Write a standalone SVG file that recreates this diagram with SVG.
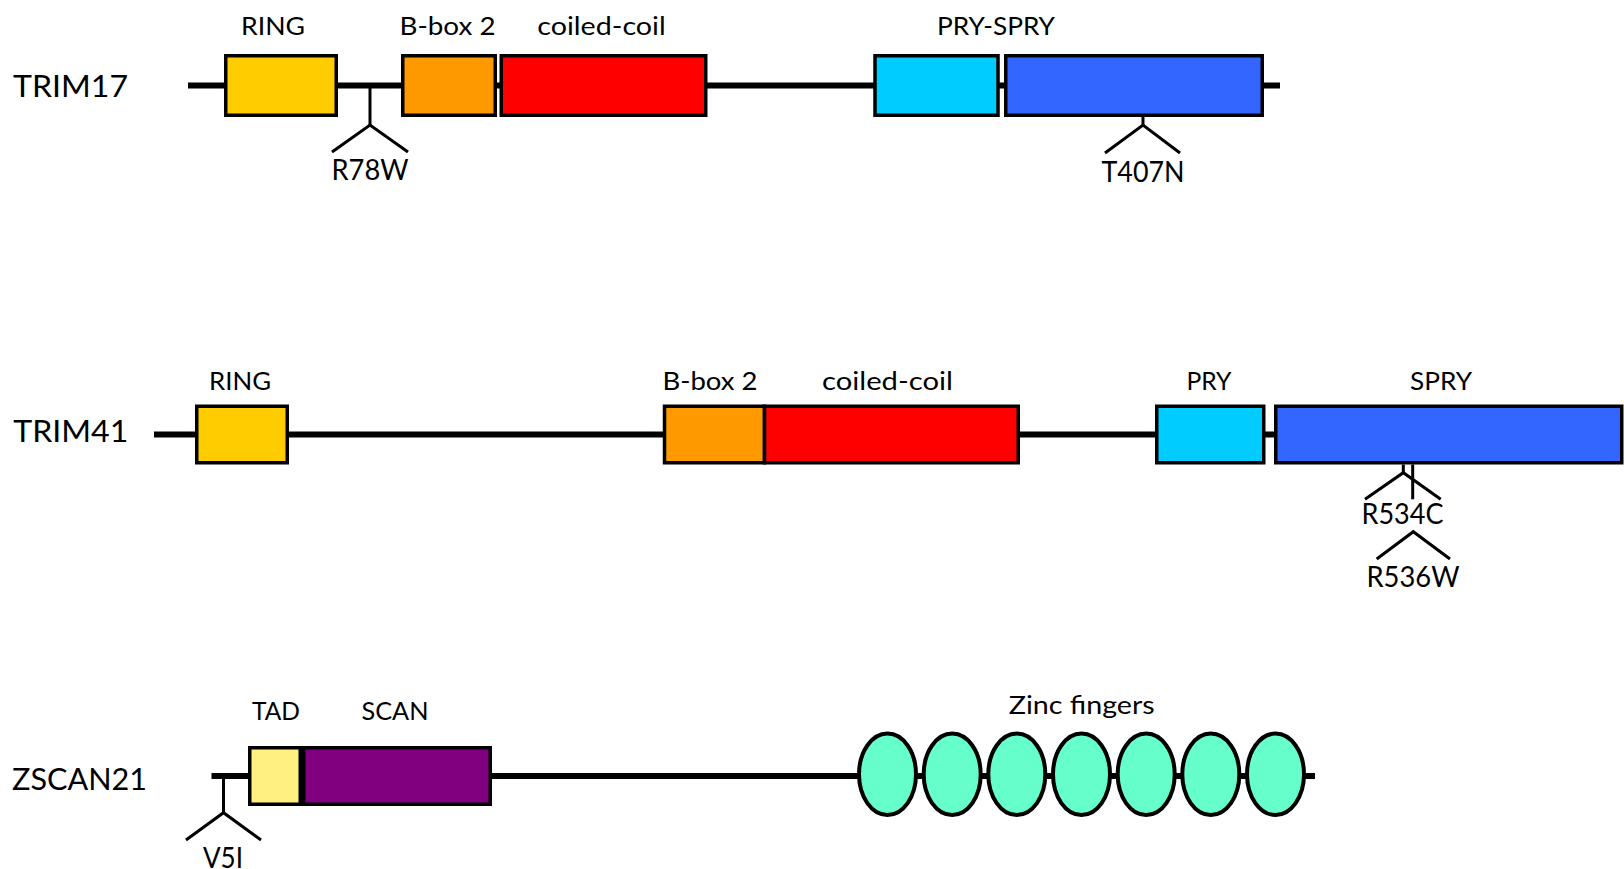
<svg xmlns="http://www.w3.org/2000/svg" width="1624" height="869" viewBox="0 0 1624 869">
<style>
text{font-family:Lato,"Open Sans","Liberation Sans",sans-serif;fill:#000;text-anchor:middle}
.dom{font-size:25.5px}
.mut{font-size:28px}
.prot{font-size:31.5px;text-anchor:start}
.box{stroke:#000;stroke-width:3.5}
.bb{stroke:#000;stroke-width:6;fill:none}
.mk{stroke:#000;stroke-width:3;fill:none}
.zf{fill:#66FFCC;stroke:#000;stroke-width:4}
.ring{fill:#FFCC00}.bbox{fill:#FF9900}.cc{fill:#FF0000}.pry{fill:#00CCFF}.spry{fill:#3366FF}.tad{fill:#FFF07F}.scan{fill:#800080}
</style>
<rect width="1624" height="869" fill="#fff"/>
<g id="connectors">
<line class="bb" x1="188" y1="85.5" x2="1280" y2="85.5"/>
<line class="bb" x1="154" y1="434.5" x2="1276" y2="434.5"/>
<line class="bb" x1="211.5" y1="776" x2="1315" y2="776"/>
</g>
<g id="trim17">
<text class="prot" x="13" y="97" textLength="115" lengthAdjust="spacingAndGlyphs">TRIM17</text>
<g id="trim17-ring"><rect class="box ring" x="225.75" y="55.75" width="110.5" height="59.5"/><text class="dom" x="273" y="35" textLength="64" lengthAdjust="spacingAndGlyphs">RING</text></g>
<g id="trim17-bbox"><rect class="box bbox" x="402.75" y="55.75" width="92.5" height="59.5"/><text class="dom" x="447.5" y="35" textLength="96" lengthAdjust="spacingAndGlyphs">B-box 2</text></g>
<g id="trim17-cc"><rect class="box cc" x="501.25" y="55.75" width="204.5" height="59.5"/><text class="dom" x="601.5" y="35" textLength="128.5" lengthAdjust="spacingAndGlyphs">coiled-coil</text></g>
<g id="trim17-pryspry"><rect class="box pry" x="875" y="55.75" width="123" height="59.5"/><rect class="box spry" x="1005.75" y="55.75" width="256.5" height="59.5"/><text class="dom" x="996" y="35" textLength="118" lengthAdjust="spacingAndGlyphs">PRY-SPRY</text></g>
<g id="trim17-r78w"><polyline class="mk" points="370,86 370,125"/><polyline class="mk" points="332,152 370,125 408,152"/><text class="mut" x="370" y="180" textLength="77" lengthAdjust="spacingAndGlyphs">R78W</text></g>
<g id="trim17-t407n"><polyline class="mk" points="1143,117 1143,125"/><polyline class="mk" points="1105,153 1143,125 1180,153"/><text class="mut" x="1143" y="182" textLength="83" lengthAdjust="spacingAndGlyphs">T407N</text></g>
</g>
<g id="trim41">
<text class="prot" x="13.3" y="441.7" textLength="115" lengthAdjust="spacingAndGlyphs">TRIM41</text>
<g id="trim41-ring"><rect class="box ring" x="196.75" y="406.25" width="90.5" height="56.5"/><text class="dom" x="240" y="389.5" textLength="62" lengthAdjust="spacingAndGlyphs">RING</text></g>
<g id="trim41-bbox"><rect class="box bbox" x="664.5" y="406.25" width="100" height="56.5"/><text class="dom" x="710" y="389.5" textLength="95" lengthAdjust="spacingAndGlyphs">B-box 2</text></g>
<g id="trim41-cc"><rect class="box cc" x="764.5" y="406.25" width="253.75" height="56.5"/><text class="dom" x="887.5" y="389.5" textLength="131" lengthAdjust="spacingAndGlyphs">coiled-coil</text></g>
<g id="trim41-pry"><rect class="box pry" x="1156.75" y="406.25" width="107" height="56.5"/><text class="dom" x="1209" y="389.5" textLength="45" lengthAdjust="spacingAndGlyphs">PRY</text></g>
<g id="trim41-spry"><rect class="box spry" x="1275.75" y="406.25" width="346" height="56.5"/><text class="dom" x="1441" y="389.5" textLength="62" lengthAdjust="spacingAndGlyphs">SPRY</text></g>
<g id="trim41-r534c"><polyline class="mk" points="1403.3,464.5 1403.3,472.7"/><polyline class="mk" points="1365,499.3 1403.3,472.7 1440.7,499.3"/><text class="mut" x="1402.5" y="524" textLength="82" lengthAdjust="spacingAndGlyphs">R534C</text></g>
<g id="trim41-r536w"><polyline class="mk" points="1412.7,464.5 1412.7,499.3"/><polyline class="mk" points="1376.7,559 1413.3,531.7 1450,559"/><text class="mut" x="1413" y="587" textLength="93" lengthAdjust="spacingAndGlyphs">R536W</text></g>
</g>
<g id="zscan21">
<text class="prot" x="12" y="790" textLength="135" lengthAdjust="spacingAndGlyphs">ZSCAN21</text>
<g id="zscan21-tad"><rect class="box tad" x="249.75" y="747.75" width="50.5" height="56.5"/><text class="dom" x="276" y="719.5" textLength="48" lengthAdjust="spacingAndGlyphs">TAD</text></g>
<g id="zscan21-scan"><rect class="box scan" x="303.75" y="747.75" width="186.5" height="56.5"/><text class="dom" x="395" y="719.5" textLength="67" lengthAdjust="spacingAndGlyphs">SCAN</text></g>
<g id="zscan21-zf">
<ellipse class="zf" cx="887.5" cy="774.3" rx="28.5" ry="40.7"/>
<ellipse class="zf" cx="952.2" cy="774.3" rx="28.5" ry="40.7"/>
<ellipse class="zf" cx="1016.8" cy="774.3" rx="28.5" ry="40.7"/>
<ellipse class="zf" cx="1081.5" cy="774.3" rx="28.5" ry="40.7"/>
<ellipse class="zf" cx="1146.2" cy="774.3" rx="28.5" ry="40.7"/>
<ellipse class="zf" cx="1210.8" cy="774.3" rx="28.5" ry="40.7"/>
<ellipse class="zf" cx="1275.5" cy="774.3" rx="28.5" ry="40.7"/>
<text class="dom" x="1081.7" y="713.5" textLength="146" lengthAdjust="spacingAndGlyphs">Zinc fingers</text>
</g>
<g id="zscan21-v5i"><polyline class="mk" points="223.5,776 223.5,812.7"/><polyline class="mk" points="186,840 223.5,812.7 261,840"/><text class="mut" x="223" y="868" textLength="40" lengthAdjust="spacingAndGlyphs">V5I</text></g>
</g>
</svg>
